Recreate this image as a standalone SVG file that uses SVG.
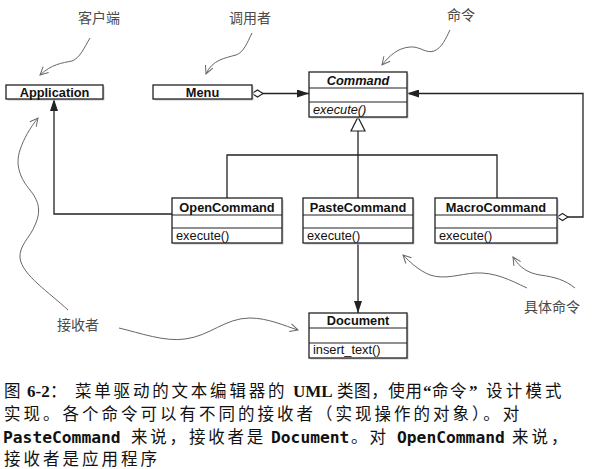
<svg xmlns="http://www.w3.org/2000/svg" width="592" height="469" viewBox="0 0 592 469">
<style>
.box{fill:#fff;stroke:#222;stroke-width:1.3}
.sh{fill:#c8c8c8}
.sep{stroke:#222;stroke-width:1.1}
.t{font-family:"Liberation Sans",Arial,sans-serif;font-size:12.8px;fill:#111}
.b{font-weight:bold}
.i{font-style:italic}
.m{text-anchor:middle}
.conn{fill:none;stroke:#222;stroke-width:1.3}
.note{fill:none;stroke:#666;stroke-width:1}
.lbl{font-family:"Noto Sans CJK SC",sans-serif;font-size:14px;fill:#4a4a4a}
.cap{font-family:"Noto Sans CJK SC",sans-serif;font-size:16.5px;fill:#111}
.ser{font-family:"Liberation Serif","Noto Sans CJK SC",serif;font-weight:bold;font-size:17px;fill:#111}
.mono{font-family:"DejaVu Sans Mono","Liberation Mono",monospace;font-weight:bold;font-size:16.3px;fill:#111}
</style>
<defs>
<marker id="arr" markerUnits="userSpaceOnUse" viewBox="0 0 12 8" refX="12" refY="4" markerWidth="12" markerHeight="8" orient="auto">
<path d="M0,0 L12,4 L0,8 z" fill="#222"/>
</marker>
<marker id="dia" markerUnits="userSpaceOnUse" viewBox="-1 -1 13 9" refX="0" refY="3.5" markerWidth="13" markerHeight="9" orient="auto">
<path d="M0,3.5 L5.5,0 L11,3.5 L5.5,7 z" fill="#fff" stroke="#222" stroke-width="1.1"/>
</marker>
<marker id="open" markerUnits="userSpaceOnUse" viewBox="0 0 10 10" refX="9" refY="5" markerWidth="10" markerHeight="10" orient="auto">
<path d="M1,1 L9,5 L1,9" fill="none" stroke="#666" stroke-width="1"/>
</marker>
</defs>
<rect width="592" height="469" fill="#fff"/>

<g id="connectors">
<path class="conn" d="M252,93.5 H309" marker-start="url(#dia)" marker-end="url(#arr)"/>
<path class="conn" d="M557,217 H583 V93.5 H407" marker-start="url(#dia)" marker-end="url(#arr)"/>
<path class="conn" d="M358,131 V198"/>
<path class="conn" d="M227,198 V155 H497 V198"/>
<polygon points="358,117 351,131 365,131" fill="#fff" stroke="#222" stroke-width="1.2"/>
<path class="conn" d="M172,214 H54 V99" marker-end="url(#arr)"/>
<path class="conn" d="M358,243 V313" marker-end="url(#arr)"/>
</g>

<g id="Application">
<rect class="sh" x="7.5" y="86.5" width="97" height="14"/>
<rect class="box" x="6" y="85" width="97" height="14"/>
<text class="t b m" x="54.5" y="96.5">Application</text>
</g>
<g id="Menu">
<rect class="sh" x="154.5" y="86.5" width="99" height="14"/>
<rect class="box" x="153" y="85" width="99" height="14"/>
<text class="t b m" x="202.5" y="96.5">Menu</text>
</g>
<g id="Command">
<rect class="sh" x="310.5" y="73.5" width="98" height="45"/>
<rect class="box" x="309" y="72" width="98" height="45"/>
<line class="sep" x1="309" y1="88" x2="407" y2="88"/>
<line class="sep" x1="309" y1="102" x2="407" y2="102"/>
<text class="t b i m" x="358" y="85">Command</text>
<text class="t i" x="313" y="113.5">execute()</text>
</g>
<g id="OpenCommand">
<rect class="sh" x="173.5" y="199.5" width="110" height="45"/>
<rect class="box" x="172" y="198" width="110" height="45"/>
<line class="sep" x1="172" y1="215" x2="282" y2="215"/>
<line class="sep" x1="172" y1="228" x2="282" y2="228"/>
<text class="t b m" x="227" y="211.5">OpenCommand</text>
<text class="t" x="176" y="239.5">execute()</text>
</g>
<g id="PasteCommand">
<rect class="sh" x="304.5" y="199.5" width="110" height="45"/>
<rect class="box" x="303" y="198" width="110" height="45"/>
<line class="sep" x1="303" y1="215" x2="413" y2="215"/>
<line class="sep" x1="303" y1="228" x2="413" y2="228"/>
<text class="t b m" x="358" y="211.5">PasteCommand</text>
<text class="t" x="307" y="239.5">execute()</text>
</g>
<g id="MacroCommand">
<rect class="sh" x="436.5" y="199.5" width="122" height="45"/>
<rect class="box" x="435" y="198" width="122" height="45"/>
<line class="sep" x1="435" y1="215" x2="557" y2="215"/>
<line class="sep" x1="435" y1="228" x2="557" y2="228"/>
<text class="t b m" x="496" y="211.5">MacroCommand</text>
<text class="t" x="439" y="239.5">execute()</text>
</g>
<g id="Document">
<rect class="sh" x="310.5" y="314.5" width="98" height="45"/>
<rect class="box" x="309" y="313" width="98" height="45"/>
<line class="sep" x1="309" y1="328" x2="407" y2="328"/>
<line class="sep" x1="309" y1="343" x2="407" y2="343"/>
<text class="t b m" x="358" y="325">Document</text>
<text class="t" x="313" y="354">insert_text()</text>
</g>

<g id="note-client">
<text class="lbl" x="78" y="23">客户端</text>
<path class="note" d="M90,38 C84,48 80,58 72,61 C62,63 52,64 40,75" marker-end="url(#open)"/>
</g>
<g id="note-invoker">
<text class="lbl" x="229" y="23">调用者</text>
<path class="note" d="M252,33 C247,43 244,52 236,55 C225,58 212,60 206,74" marker-end="url(#open)"/>
</g>
<g id="note-command">
<text class="lbl" x="447" y="20">命令</text>
<path class="note" d="M450,30 C446,38 442,48 434,51 C426,54 420,46 410,47 C398,48 390,55 382,65" marker-end="url(#open)"/>
</g>
<g id="note-receiver">
<text class="lbl" x="57" y="330">接收者</text>
<path class="note" d="M68,310 C50,293 22,275 20,258 C19,245 30,238 35,225 C42,210 38,200 30,190 C20,178 15,165 20,150 C24,138 30,128 38,118" marker-end="url(#open)"/>
<path class="note" d="M119,328 C140,333 165,342 185,339 C210,336 225,318 250,318 C268,318 285,326 298,330" marker-end="url(#open)"/>
</g>
<g id="note-concrete">
<text class="lbl" x="524" y="312">具体命令</text>
<path class="note" d="M527,288 C510,280 495,272 475,273 C460,274 445,280 430,275 C418,270 410,262 403,255" marker-end="url(#open)"/>
<path class="note" d="M575,288 C565,280 555,277 540,275 C528,273 520,268 513,257" marker-end="url(#open)"/>
</g>

<g id="caption">
<text class="cap" x="4" y="397">图</text>
<text class="ser" x="27" y="397">6-2</text>
<text class="cap" x="50" y="397">：</text>
<text class="cap" x="75" y="397" letter-spacing="2.8">菜单驱动的文本编辑器的</text>
<text class="ser" x="293" y="397">UML</text>
<text class="cap" x="337" y="397" letter-spacing="0.6">类图，使用</text>
<text class="ser" x="423" y="397">“</text>
<text class="cap" x="432" y="397" letter-spacing="1.5">命令</text>
<text class="ser" x="469" y="397">”</text>
<text class="cap" x="486" y="397" letter-spacing="3.2">设计模式</text>
<text class="cap" x="4" y="420" letter-spacing="3">实现。各个命令可以有不同的接收者（实现操作的对象）。对</text>
<text class="mono" x="3" y="443">PasteCommand</text>
<text class="cap" x="131" y="443" letter-spacing="2.8">来说，接收者是</text>
<text class="mono" x="271" y="443">Document</text>
<text class="cap" x="351" y="443" letter-spacing="2">。对</text>
<text class="mono" x="397" y="443">OpenCommand</text>
<text class="cap" x="512" y="443" letter-spacing="3">来说，</text>
<text class="cap" x="4" y="464.5" letter-spacing="3">接收者是应用程序</text>
</g>
</svg>
